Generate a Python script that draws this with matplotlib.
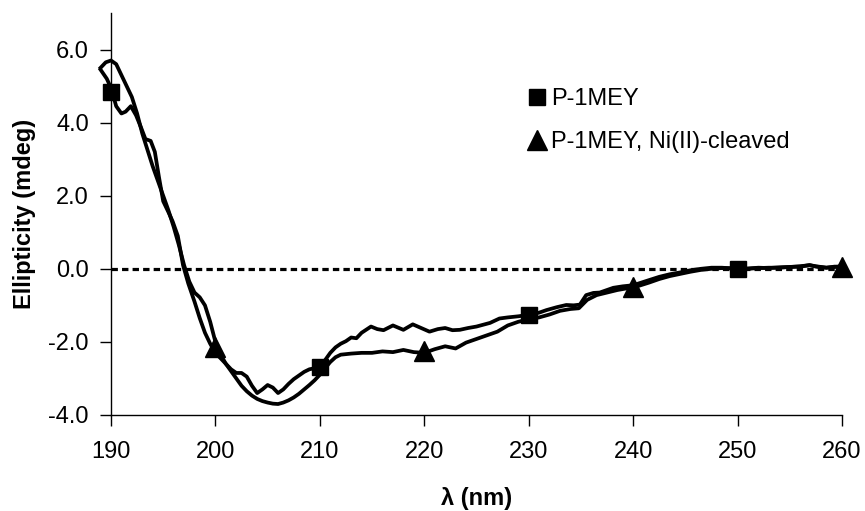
import matplotlib
matplotlib.use("Agg")
import matplotlib.pyplot as plt
from matplotlib.ticker import FormatStrFormatter

# CD spectrum, P-1MEY
wl_intact = [189.0, 189.6, 190.0, 190.5, 191.0, 191.4, 191.9, 192.4, 192.9, 193.3,
             193.8, 194.2, 194.6, 195.0, 195.5, 195.9, 196.4, 196.9, 197.4, 198.0,
             198.5, 199.0, 199.5, 200.0, 200.5, 201.0, 201.5, 202.0, 202.5, 203.0,
             203.5, 204.0, 204.5, 205.0, 205.5, 206.0, 206.5, 207.0, 207.5, 208.0,
             208.5, 209.0, 209.5, 210.0, 210.5, 211.0, 211.5, 212.0, 212.5, 213.0,
             213.5, 214.0, 214.9, 215.5, 216.1, 217.0, 218.0, 218.9, 219.7, 220.5,
             221.3, 222.0, 222.7, 223.4, 224.2, 225.0, 226.3, 227.2, 228.0, 229.0,
             230.0, 231.0, 231.7, 232.7, 233.6, 234.3, 234.9, 235.5, 236.2, 236.8,
             237.5, 238.1, 239.0, 240.0, 241.3, 242.5, 243.5, 244.5, 245.5, 246.5,
             247.5, 248.5, 250.0, 251.0, 252.0, 253.0, 254.0, 255.0, 256.0, 256.9,
             257.5, 258.5, 259.3, 260.0]
cd_intact = [5.45, 5.2, 4.95, 4.45, 4.25, 4.3, 4.45, 4.2, 3.85, 3.55,
             3.5, 3.2, 2.5, 1.85, 1.55, 1.3, 0.9, 0.1, -0.4, -0.9,
             -1.35, -1.75, -2.05, -2.3, -2.45, -2.6, -2.75, -2.85, -2.85, -2.95,
             -3.2, -3.4, -3.3, -3.18, -3.25, -3.4, -3.3, -3.15, -3.02, -2.92,
             -2.82, -2.75, -2.72, -2.65, -2.5, -2.3, -2.15, -2.05, -1.98, -1.88,
             -1.9, -1.75, -1.58, -1.65, -1.68, -1.55, -1.67, -1.52, -1.62, -1.72,
             -1.65, -1.62, -1.68, -1.67, -1.62, -1.58, -1.48, -1.36, -1.33, -1.3,
             -1.26, -1.2, -1.13, -1.05, -0.99, -1.0, -0.98, -0.72, -0.66, -0.65,
             -0.58, -0.52, -0.48, -0.45, -0.33, -0.22, -0.15, -0.1, -0.04, 0.0,
             0.03, 0.03, 0.0, 0.01, 0.03, 0.02, 0.04, 0.05, 0.06, 0.1,
             0.06, 0.03, 0.05, 0.07]

# CD spectrum, P-1MEY after Ni(II) cleavage
wl_cleaved = [189.0, 189.5, 190.0, 190.5, 191.0, 191.5, 192.0, 192.5, 193.0, 193.5,
              194.0, 194.5, 195.0, 195.5, 196.0, 196.5, 197.0, 197.5, 198.0, 198.5,
              199.0, 199.5, 200.0, 200.5, 201.0, 201.5, 202.0, 202.5, 203.0, 203.5,
              204.0, 204.5, 205.0, 205.5, 206.0, 206.5, 207.0, 207.5, 208.0, 208.5,
              209.0, 209.5, 210.0, 210.5, 211.0, 211.5, 212.0, 213.0, 214.0, 215.0,
              216.0, 217.0, 218.0, 219.0, 220.0, 221.0, 222.0, 223.0, 224.0, 225.0,
              226.0, 227.0, 228.0, 229.0, 230.0, 231.0, 232.0, 233.0, 234.0, 234.8,
              235.6, 236.5, 237.5, 238.5, 239.5, 240.5, 241.5, 242.5, 243.5, 244.5,
              245.5, 246.5, 247.5, 248.5, 250.0, 251.0, 252.0, 253.0, 254.0, 255.0,
              256.0, 256.9, 257.5, 258.5, 259.3, 260.0]
cd_cleaved = [5.5, 5.65, 5.7, 5.6, 5.3, 5.0, 4.7, 4.25, 3.7, 3.25,
              2.8, 2.4, 2.0, 1.6, 1.15, 0.65, 0.1, -0.35, -0.65, -0.78,
              -1.0, -1.45, -2.0, -2.35, -2.6, -2.8, -3.0, -3.2, -3.35, -3.47,
              -3.56, -3.62, -3.66, -3.69, -3.7, -3.66, -3.6, -3.52, -3.42, -3.3,
              -3.18, -3.05, -2.9, -2.72, -2.55, -2.42, -2.35, -2.32, -2.3, -2.3,
              -2.26, -2.28, -2.22, -2.28, -2.3, -2.2, -2.12, -2.18, -2.02, -1.92,
              -1.82, -1.72, -1.55, -1.45, -1.38, -1.33, -1.25, -1.15, -1.1, -1.08,
              -0.85, -0.72, -0.65, -0.58, -0.53, -0.47, -0.38, -0.28, -0.2, -0.14,
              -0.08, -0.03, 0.0, 0.02, 0.01, 0.0, 0.02, 0.03, 0.03, 0.05,
              0.07, 0.1, 0.07, 0.03, 0.06, 0.05]

# marker points
sq_x = [190, 210, 230, 250]
sq_y = [4.85, -2.68, -1.26, 0.0]
tri_x = [200, 220, 240, 260]
tri_y = [-2.15, -2.25, -0.5, 0.06]

x_ticks = [190, 200, 210, 220, 230, 240, 250, 260]
y_ticks = [-4, -2, 0, 2, 4, 6]

plt.rcParams["font.family"] = ["Liberation Sans", "DejaVu Sans"]
plt.rcParams["axes.unicode_minus"] = False

fig = plt.figure(figsize=(8.65, 5.11), dpi=100)
ax = fig.add_axes([0.1283, 0.1879, 0.8451, 0.7867])

ax.axhline(0, color="black", lw=2.3, dashes=(2.0, 1.3), zorder=1)
ax.plot(wl_intact, cd_intact, color="black", lw=2.7, clip_on=False, zorder=3)
ax.plot(wl_cleaved, cd_cleaved, color="black", lw=2.7, clip_on=False, zorder=3)
ax.plot(sq_x, sq_y, ls="none", marker="s", ms=12, color="black",
        clip_on=False, zorder=4, label="P-1MEY")
ax.plot(tri_x, tri_y, ls="none", marker="^", ms=14, color="black",
        clip_on=False, zorder=4, label="P-1MEY, Ni(II)-cleaved")

ax.set_xlim(190, 260)
ax.set_ylim(-4, 7)
ax.set_xticks(x_ticks)
ax.set_yticks(y_ticks)
ax.yaxis.set_major_formatter(FormatStrFormatter("%.1f"))
ax.tick_params(direction="out", length=8, width=1, labelsize=17)
ax.tick_params(axis="x", pad=11)
ax.tick_params(axis="y", pad=8)

for side in ("top", "right"):
    ax.spines[side].set_visible(False)
for side in ("left", "bottom"):
    ax.spines[side].set_linewidth(1)

ax.set_xlabel("λ (nm)", fontsize=17, fontweight="bold")
ax.set_ylabel("Ellipticity (mdeg)", fontsize=17, fontweight="bold")
ax.xaxis.set_label_coords(0.5, -0.178)
ax.yaxis.set_label_coords(-0.103, 0.5)

ax.legend(loc="upper left", bbox_to_anchor=(0.607, 0.827),
          bbox_transform=fig.transFigure, frameon=False, fontsize=17,
          handletextpad=0.1, handlelength=1.0, labelspacing=0.88,
          borderaxespad=0, borderpad=0)

fig.savefig("out.png", dpi=100)
